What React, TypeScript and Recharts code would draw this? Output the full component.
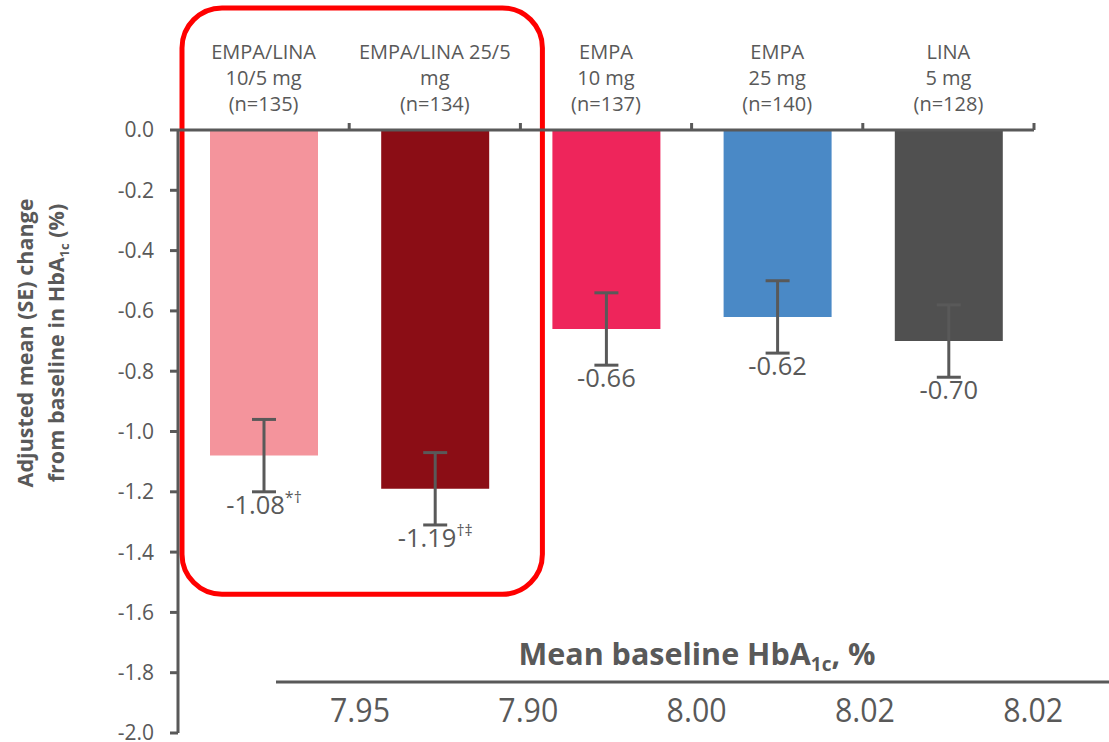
import React from 'react';
import { BarChart, Bar, XAxis, YAxis, Cell, ErrorBar, LabelList, ReferenceArea, Customized } from 'recharts';

const categories = ['EMPA/LINA 10/5 mg', 'EMPA/LINA 25/5 mg', 'EMPA 10 mg', 'EMPA 25 mg', 'LINA 5 mg'];
const labelLine1 = ['EMPA/LINA', 'EMPA/LINA 25/5', 'EMPA', 'EMPA', 'LINA'];
const labelLine2 = ['10/5 mg', 'mg', '10 mg', '25 mg', '5 mg'];
const sampleSizes = [135, 134, 137, 140, 128];
const meanChange = [-1.08, -1.19, -0.66, -0.62, -0.7];
const standardError = [0.12, 0.12, 0.12, 0.12, 0.12];
const footnotes = ['*†', '†‡', '', '', ''];
const baselineHbA1c = ['7.95', '7.90', '8.00', '8.02', '8.02'];
const barColors = ['#F4949C', '#8B0D15', '#EE255B', '#4A89C6', '#505050'];
const yTicks = [0, -0.2, -0.4, -0.6, -0.8, -1.0, -1.2, -1.4, -1.6, -1.8, -2.0];

const data = categories.map((name, i) => ({
  name,
  value: meanChange[i],
  se: standardError[i],
  note: footnotes[i],
}));

const W = 1109;
const H = 742;
const MARGIN = { top: 100, right: 75, bottom: 9, left: 78 };
const Y_AXIS_W = 100;
const X_AXIS_H = 30;
const PLOT_LEFT = MARGIN.left + Y_AXIS_W;
const PLOT_RIGHT = W - MARGIN.right;
const BAND = (PLOT_RIGHT - PLOT_LEFT) / categories.length;
const GREY = '#595959';

const TopTick = (props: any) => {
  const { x, y, payload } = props;
  const i = categories.indexOf(payload.value);
  return (
    <g>
      <text x={x} y={y - 71} textAnchor="middle" fill={GREY} fontSize={20}>{labelLine1[i]}</text>
      <text x={x} y={y - 45} textAnchor="middle" fill={GREY} fontSize={20}>{labelLine2[i]}</text>
      <text x={x} y={y - 19} textAnchor="middle" fill={GREY} fontSize={20}>{`(n=${sampleSizes[i]})`}</text>
      <line x1={x + BAND / 2} x2={x + BAND / 2} y1={y} y2={y - 7} stroke={GREY} strokeWidth={3} />
    </g>
  );
};

const ValueLabel = (props: any) => {
  const vb = props.viewBox || props;
  const x = Number(vb.x ?? props.x);
  const y = Number(vb.y ?? props.y);
  const width = Number(vb.width ?? props.width);
  const height = Number(vb.height ?? props.height);
  const index = props.index;
  const value = meanChange[index];
  const bottom = Math.max(y, y + height);
  const pxPerUnit = Math.abs(height / value);
  const errBottom = bottom + standardError[index] * pxPerUnit;
  const note = footnotes[index];
  return (
    <text x={x + width / 2} y={errBottom + 22} textAnchor="middle" fill={GREY} fontSize={25.5}>
      {value.toFixed(2)}
      {note ? <tspan fontSize={16} dy={-11}>{note}</tspan> : null}
    </text>
  );
};

const Annotations = () => (
  <g>
    <text transform="rotate(-90, 33, 343)" x={33} y={343} textAnchor="middle" fill={GREY} fontSize={21.5} fontWeight="bold">
      Adjusted mean (SE) change
    </text>
    <text transform="rotate(-90, 64, 343)" x={64} y={343} textAnchor="middle" fill={GREY} fontSize={21.5} fontWeight="bold">
      from baseline in HbA<tspan fontSize={13} dy={5}>1c</tspan><tspan dy={-5}> (%)</tspan>
    </text>
    <text x={697} y={665} textAnchor="middle" fill={GREY} fontSize={30.5} fontWeight="bold">
      Mean baseline HbA<tspan fontSize={19} dy={6}>1c</tspan><tspan dy={-6}>, %</tspan>
    </text>
    <line x1={276} x2={W} y1={682} y2={682} stroke={GREY} strokeWidth={3} />
    {baselineHbA1c.map((v, i) => (
      <text key={i} x={360 + i * 168.3} y={722} textAnchor="middle" fill={GREY} fontSize={33} textLength={60} lengthAdjust="spacingAndGlyphs">
        {v}
      </text>
    ))}
  </g>
);

const HighlightBox = (props: any) => (
  <rect x={props.x + 4} y={props.y} width={props.width + 18} height={props.height} rx={40} ry={40} fill="none" stroke="#FF0000" strokeWidth={5} />
);

export default function App() {
  return (
    <div style={{ position: 'absolute', left: 0, top: 0, width: W, height: H, fontFamily: "'Open Sans', sans-serif", background: '#fff' }}>
      <BarChart width={W} height={H} data={data} margin={MARGIN}>
        <XAxis
          dataKey="name"
          orientation="top"
          height={X_AXIS_H}
          tick={<TopTick />}
          tickLine={false}
          tickSize={0}
          tickMargin={0}
          interval={0}
          axisLine={{ stroke: GREY, strokeWidth: 3 }}
        />
        <YAxis
          domain={[-2, 0]}
          ticks={yTicks}
          interval={0}
          width={Y_AXIS_W}
          tickFormatter={(v: number) => v.toFixed(1)}
          tick={{ fill: GREY, fontSize: 21 }}
          tickSize={8}
          tickMargin={16}
          axisLine={{ stroke: GREY, strokeWidth: 3 }}
          tickLine={{ stroke: GREY, strokeWidth: 3 }}
        />
        <ReferenceArea
          x1={categories[0]}
          x2={categories[1]}
          y1={0.405}
          y2={-1.54}
          ifOverflow="visible"
          shape={<HighlightBox />}
        />
        <Bar dataKey="value" barSize={108} isAnimationActive={false}>
          {data.map((d, i) => (
            <Cell key={i} fill={barColors[i]} />
          ))}
          <ErrorBar dataKey="se" width={12} strokeWidth={3} stroke={GREY} direction="y" />
          <LabelList dataKey="value" content={<ValueLabel />} />
        </Bar>
        <Customized component={<Annotations />} />
      </BarChart>
    </div>
  );
}
